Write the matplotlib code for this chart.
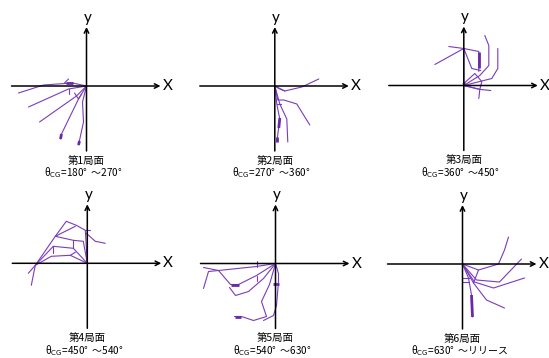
import matplotlib
matplotlib.use("Agg")
import matplotlib.pyplot as plt

W, H = 549, 358

# panel titles
phase_labels = ["第1局面", "第2局面", "第3局面", "第4局面", "第5局面", "第6局面"]
angle_starts = ["180°", "270°", "360°", "450°", "540°", "630°"]
angle_ends = ["270°", "360°", "450°", "540°", "630°", "リリース"]

# stick-figure polylines (x, y) per panel
p1_lines = [
    [(0, 0), (-14, 3), (-43, 1), (-68, -7)],
    [(-22, 3), (-18, 7)],
    [(0, 0), (-18, -3), (-58, -21)],
    [(-18, -3), (-18, -8)],
    [(0, 0), (-10, -10), (-47, -36)],
    [(-12, -7), (-8, -13), (-5, -8)],
    [(0, 0), (-8, -13), (-25, -48), (-26, -53)],
    [(0, 0), (-4, -16), (-3, -36), (-8, -59)],
]
p1_thick = [
    [(-21, 3), (-14, 3)],
    [(-25, -48), (-26, -53)],
    [(-7, -55), (-8, -59)],
]

p2_lines = [
    [(0, 0), (10, -5), (27, -1), (44, 7)],
    [(0, 0), (5, -3), (10, -5)],
    [(0, 0), (3, -14), (9, -14), (22, -18), (35, -39)],
    [(0, 0), (5, -18), (12, -33), (13, -56)],
    [(0, 0), (2, -18), (5, -33), (2, -56)],
    [(2, -18), (6, -18)],
]
p2_thick = [
    [(5, -32), (4, -42)],
    [(2, -51), (2, -56)],
]

p3_lines = [
    [(0, 0), (0, 37), (-29, 21)],
    [(-15, 39), (0, 37), (15, 34), (15, 14)],
    [(0, 37), (8, 17), (17, 15)],
    [(0, 2), (11, 12), (18, 4), (16, -4)],
    [(0, 0), (16, -4), (15, -13)],
    [(0, 0), (16, 10), (25, 20), (25, 40), (21, 50)],
    [(0, 0), (28, 7), (34, 17), (34, 37)],
    [(0, 0), (17, -4), (27, -5)],
]
p3_thick = [
    [(15, 34), (15, 18)],
    [(0, 3), (1, 0)],
]

p4_lines = [
    [(0, 0), (-17, 8), (-36, 7), (-52, -2), (-59, -10)],
    [(0, 0), (-14, 15), (-34, 17), (-52, -2), (-56, -22)],
    [(0, 0), (-4, 22), (-14, 23), (-32, 27), (-52, -2)],
    [(0, 0), (-2, 33), (-11, 38), (-21, 42), (-32, 27)],
    [(-2, 33), (3, 33)],
    [(-1, 30), (8, 22), (18, 20)],
    [(-12, 37), (-32, 27)],
    [(-34, 17), (-34, 10)],
    [(-17, 8), (-12, 11)],
    [(-14, 23), (-14, 15)],
]
p4_thick = []

p5_lines = [
    [(0, 0), (-19, -3), (-57, -7), (-67, -8), (-72, -25)],
    [(-72, -4), (-57, -7)],
    [(-19, -3), (-19, 3)],
    [(0, 0), (-19, -12), (-37, -21), (-45, -21), (-57, -7)],
    [(0, 0), (-12, -15), (-27, -28), (-40, -32), (-46, -24)],
    [(-19, -12), (-19, -17)],
    [(0, 0), (-6, -21), (-14, -38), (-9, -53), (-22, -57), (-34, -53), (-41, -53)],
    [(0, 0), (3, -10), (3, -18), (1, -42), (-2, -52), (-12, -57)],
]
p5_thick = [
    [(-37, -21), (-45, -21)],
    [(-35, -53), (-41, -53)],
    [(-3, -20), (3, -20)],
]

p6_lines = [
    [(0, 0), (16, -6), (36, 0), (42, 14), (46, 27)],
    [(0, 0), (14, -16), (37, -18), (59, 5)],
    [(0, 0), (12, -18), (31, -24), (62, -14)],
    [(0, 0), (11, -19), (24, -36), (42, -44)],
    [(0, 0), (6, -14), (9, -31), (10, -53)],
    [(16, -6), (11, -19)],
    [(-1, -14), (7, -14)],
    [(-1, -18), (6, -18)],
]
p6_thick = [
    [(9, -31), (10, -53)],
]

panel_lines = [p1_lines, p2_lines, p3_lines, p4_lines, p5_lines, p6_lines]
panel_thick = [p1_thick, p2_thick, p3_thick, p4_thick, p5_thick, p6_thick]

# layout: origin of each panel in pixels
origins = [(86.5, 86), (274.8, 86), (463.8, 85.5),
           (87.3, 263.3), (275.5, 263.5), (462.5, 264)]

L, R, T, B = 88, 90, 80, 94
purple = "#7a3cbc"
dark_purple = "#6a2aa8"
cjk = ["Noto Sans CJK JP", "DejaVu Sans"]

fig = plt.figure(figsize=(W / 100, H / 100), dpi=100)
fig.patch.set_facecolor("white")

for i, (ox, oy) in enumerate(origins):
    ax = fig.add_axes([(ox - L) / W, (H - oy - B) / H, (L + R) / W, (B + T) / H])
    ax.set_xlim(-L, R)
    ax.set_ylim(-B, T)
    ax.axis("off")
    # axes with arrows
    ax.annotate("", xy=(74, 0), xytext=(-75, 0),
                arrowprops=dict(arrowstyle="->", lw=1.1, color="black",
                                shrinkA=0, shrinkB=0, mutation_scale=8))
    ax.annotate("", xy=(0, 59), xytext=(0, -65),
                arrowprops=dict(arrowstyle="->", lw=1.1, color="black",
                                shrinkA=0, shrinkB=0, mutation_scale=8))
    ax.text(76, 0, "X", fontsize=11, ha="left", va="center", family="Lato")
    ax.text(1, 61, "y", fontsize=11, ha="center", va="bottom", family="Lato")
    for line in panel_lines[i]:
        xs = [p[0] for p in line]
        ys = [p[1] for p in line]
        ax.plot(xs, ys, color=purple, lw=0.8, solid_capstyle="round")
    for line in panel_thick[i]:
        xs = [p[0] for p in line]
        ys = [p[1] for p in line]
        ax.plot(xs, ys, color=dark_purple, lw=2.0, solid_capstyle="butt")
    ax.text(0, -75, phase_labels[i], fontsize=7.5, ha="center", va="center",
            family=cjk)
    ax.text(-3, -87, r"θ$_{\mathrm{CG}}$=" + angle_starts[i] + "  ～" + angle_ends[i],
            fontsize=7.2, ha="center", va="center", family=cjk)

fig.savefig("out.png", dpi=100)
